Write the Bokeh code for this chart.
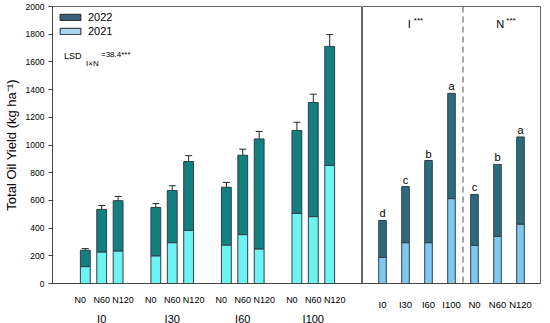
from bokeh.plotting import figure
from bokeh.models import (ColumnDataSource, FactorRange, Range1d, Whisker, TeeHead,
                          Span, Label, Legend, LegendItem, FixedTicker)
from bokeh.layouts import row
from bokeh.core.properties import value
from bokeh.embed import file_html
from bokeh.resources import INLINE

# ---------------- data ----------------
irrigation = ["I0", "I30", "I60", "I100"]
nitrogen = ["N0", "N60", "N120"]
# stacked segments (kg/ha) for each irrigation x nitrogen combination
oil_2021 = [122, 228, 235, 200, 295, 384, 278, 353, 250, 507, 483, 853]
oil_2022 = [118, 307, 363, 349, 376, 497, 417, 573, 794, 598, 824, 859]
oil_err = [12, 28, 30, 28, 35, 42, 35, 44, 54, 59, 60, 85]

main_factors = ["I0", "I30", "I60", "I100", "N0", "N60", "N120"]
main_2021 = [189, 295, 295, 613, 276, 341, 429]
main_2022 = [266, 405, 593, 760, 367, 519, 629]
main_letters = ["d", "c", "b", "a", "c", "b", "a"]

y_ticks = [0, 200, 400, 600, 800, 1000, 1200, 1400, 1600, 1800, 2000]
legend_labels = ["2022", "2021"]
lsd_text = ["LSD", "I\u00d7N", "=38.4***"]
effect_labels = ["I", "N"]

FONT = "Liberation Sans"
C22_L = "#13807f"
C21_L = "#6ef3f5"
C22_R = "#2d6a7c"
C21_R = "#7ec8f2"
EDGE = "#2f3f48"

# ---------------- left panel ----------------
# figure spaces nudge the crowded N labels apart, as in the original
FS = "\u2007"
n_shown = [nitrogen[0] + FS * 2, nitrogen[1], FS * 2 + nitrogen[2]]
factors = [(i, n) for i in irrigation for n in n_shown]
mid = list(oil_2021)
top = [a + b for a, b in zip(oil_2021, oil_2022)]
src1 = ColumnDataSource(dict(
    x=factors, mid=mid, top=top,
    upper=[t + e for t, e in zip(top, oil_err)],
    lower=[t - e for t, e in zip(top, oil_err)],
))

FH = 277
p1 = figure(x_range=FactorRange(*factors, group_padding=1.3, factor_padding=0,
                                range_padding=1.5, range_padding_units="absolute"),
            y_range=Range1d(0, 2000), frame_width=310, frame_height=FH,
            output_backend="svg", toolbar_location=None,
            min_border_left=0, min_border_right=0, min_border_top=6, min_border_bottom=0)

p1.vbar(x="x", bottom=0, top="mid", width=0.6, source=src1,
        fill_color=C21_L, line_color=EDGE, line_width=1)
p1.vbar(x="x", bottom="mid", top="top", width=0.6, source=src1,
        fill_color=C22_L, line_color=EDGE, line_width=1)
p1.add_layout(Whisker(source=src1, base="x", upper="upper", lower="lower",
                      line_color="#1d2b2b", line_width=1,
                      upper_head=TeeHead(size=7, line_color="#1d2b2b", line_width=1),
                      lower_head=TeeHead(size=7, line_color="#1d2b2b", line_width=1)))

# legend (zero-height proxy bars carry the legend swatch styles)
r22 = p1.vbar(x=[factors[0]], bottom=[0], top=[0], width=0.01,
              fill_color="#3a6179", line_color="#222222")
r21 = p1.vbar(x=[factors[0]], bottom=[0], top=[0], width=0.01,
              fill_color="#a9d4f2", line_color="#222222")
legend = Legend(items=[LegendItem(label=legend_labels[0], renderers=[r22]),
                       LegendItem(label=legend_labels[1], renderers=[r21])],
                location="top_left", border_line_color=None, background_fill_alpha=0,
                glyph_width=26, glyph_height=8, label_height=12, spacing=2,
                padding=7, margin=5, label_standoff=5,
                label_text_font_size="11px", label_text_font=FONT,
                label_text_color="black")
p1.add_layout(legend)

# LSD annotation
p1.add_layout(Label(x=-0.8, y=1640, text=lsd_text[0], text_font=FONT,
                    text_font_size="9px", text_baseline="middle", text_color="black"))
p1.add_layout(Label(x=-0.8, y=1585, x_offset=22, text=lsd_text[1], text_font=FONT,
                    text_font_size="8px", text_baseline="middle", text_color="black"))
p1.add_layout(Label(x=-0.8, y=1650, x_offset=37, text=lsd_text[2], text_font=FONT,
                    text_font_size="8px", text_baseline="middle", text_color="black"))

p1.grid.visible = False
p1.outline_line_color = "#666666"

p1.yaxis.ticker = FixedTicker(ticks=y_ticks)
p1.yaxis.minor_tick_line_color = None
p1.yaxis.major_tick_out = 4
p1.yaxis.major_tick_in = 0
p1.yaxis.major_label_text_font_size = "8.5px"
p1.yaxis.major_label_text_font = FONT
p1.yaxis.major_label_text_color = "black"
p1.yaxis.major_label_standoff = 4
p1.yaxis.axis_label = "Total Oil Yield (kg ha\u207b\u00b9)"
p1.yaxis.axis_label_text_font = FONT
p1.yaxis.axis_label_text_font_size = "13px"
p1.yaxis.axis_label_text_font_style = "normal"
p1.yaxis.axis_label_text_color = "black"
p1.yaxis.axis_label_standoff = 4
p1.yaxis.axis_line_color = "#444444"
p1.yaxis.major_tick_line_color = "#444444"

p1.xaxis.major_tick_line_color = None
p1.xaxis.minor_tick_line_color = None
p1.xaxis.axis_line_color = "#444444"
p1.xaxis.major_label_text_font = FONT
p1.xaxis.major_label_text_font_size = "9px"
p1.xaxis.major_label_text_color = "black"
p1.xaxis.major_label_standoff = 5
p1.xaxis.group_text_font = FONT
p1.xaxis.group_text_font_size = "11px"
p1.xaxis.group_text_font_style = "normal"
p1.xaxis.group_text_color = "black"
p1.xaxis.separator_line_color = None

# ---------------- right panel ----------------
mtop = [a + b for a, b in zip(main_2021, main_2022)]
src2 = ColumnDataSource(dict(x=main_factors, mid=main_2021, top=mtop, lab=main_letters))

p2 = figure(x_range=FactorRange(*main_factors, range_padding=0.37,
                                range_padding_units="absolute"),
            y_range=p1.y_range, frame_width=178, frame_height=FH,
            y_axis_location=None, output_backend="svg", toolbar_location=None,
            min_border_left=0, min_border_right=3, min_border_top=6, min_border_bottom=0)

p2.vbar(x="x", bottom=0, top="mid", width=0.33, source=src2,
        fill_color=C21_R, line_color=EDGE, line_width=1)
p2.vbar(x="x", bottom="mid", top="top", width=0.33, source=src2,
        fill_color=C22_R, line_color=EDGE, line_width=1)
p2.text(x="x", y="top", text="lab", source=src2, text_align="center",
        text_baseline="bottom", y_offset=-1, text_font=value(FONT),
        text_font_size="11px", text_color="black")

p2.add_layout(Span(location=4, dimension="height", line_color="#8a8a8a",
                   line_dash="6 4", line_width=1.5))

for xpos, lab in zip([1.6, 5.45], effect_labels):
    p2.add_layout(Label(x=xpos, y=1875, text=lab, text_font=FONT, text_color="black",
                        text_font_size="11px", text_baseline="middle"))
    p2.add_layout(Label(x=xpos, y=1900, x_offset=6 if lab == "I" else 10, text="***",
                        text_font=FONT, text_font_size="8px", text_baseline="middle",
                        text_color="black"))

p2.grid.visible = False
p2.outline_line_color = "#666666"
p2.xaxis.major_tick_line_color = None
p2.xaxis.minor_tick_line_color = None
p2.xaxis.axis_line_color = "#444444"
p2.xaxis.major_label_text_font = FONT
p2.xaxis.major_label_text_font_size = "9.5px"
p2.xaxis.major_label_text_color = "black"
p2.xaxis.major_label_standoff = 9

layout = row(p1, p2)
open("out.html", "w").write(file_html(layout, INLINE))
